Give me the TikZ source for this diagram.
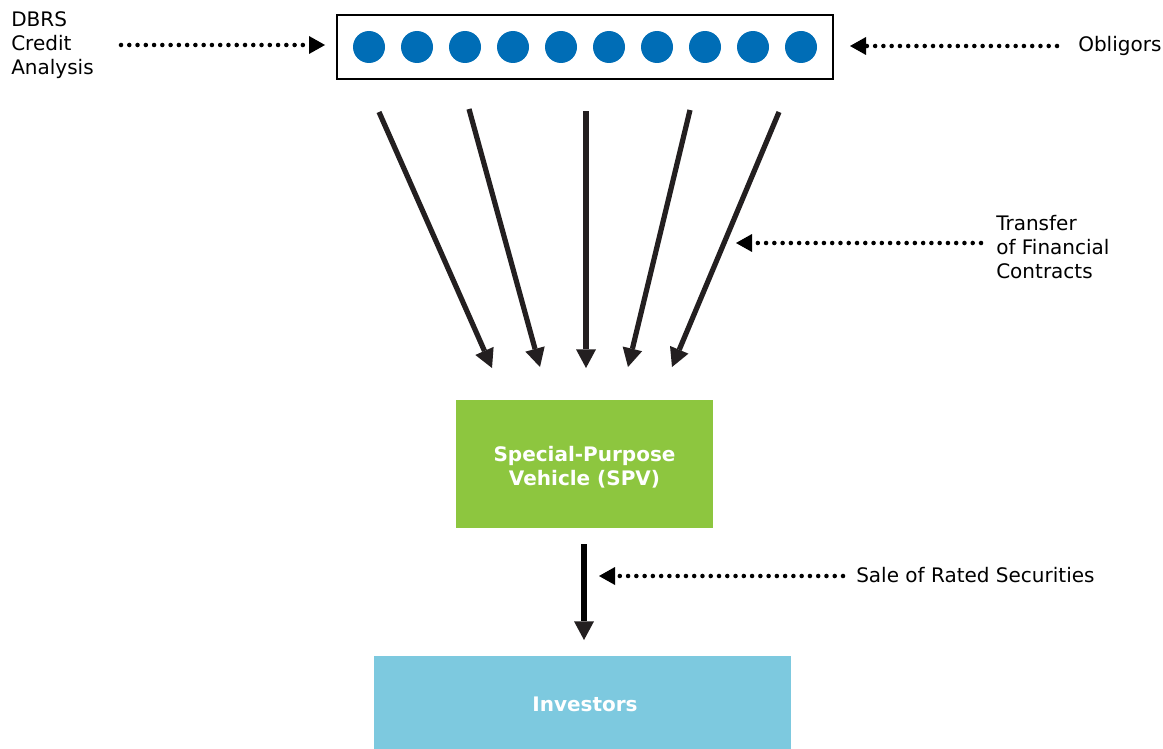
\documentclass[tikz,border=0pt]{standalone}
\usepackage{fontspec}
\setmainfont{DejaVu Sans}
\usetikzlibrary{arrows.meta}
\definecolor{poolblue}{HTML}{006DB6}
\definecolor{spvgreen}{HTML}{8DC63F}
\definecolor{invblue}{HTML}{7DC9DF}
\definecolor{arrowdark}{HTML}{231F20}
\tikzset{
  lbl/.style={font=\fontsize{15pt}{18pt}\selectfont, text=black, inner sep=0pt, align=left},
  boxtext/.style={font=\bfseries\fontsize{15pt}{18pt}\selectfont, text=white, align=center},
  dotarrow/.style={line width=3.4pt, line cap=round, dash pattern=on 0pt off 6.2pt,
     -{Triangle[length=12pt,width=13.5pt,line width=0pt]}},
  bigarrow/.style={line width=3.9pt, draw=arrowdark,
     -{Triangle[length=14pt,width=15pt,line width=0pt,fill=arrowdark]}},
  dot/.style={circle, fill=poolblue, minimum size=24pt, inner sep=0pt},
}
\begin{document}
\begin{tikzpicture}[x=0.75pt,y=-0.75pt]
\useasboundingbox (0,0) rectangle (1163,749);
% pool box
\node[draw=black, line width=0.9pt, minimum width=372pt, minimum height=48pt, inner sep=0pt] (pool) at (585,47) {};
\foreach \i in {0,...,9} {
  \node[dot] (c\i) at ({369+48*\i},47) {};
}
% labels
\node[lbl, anchor=north west] (dbrs) at (11,11) {DBRS\\Credit\\Analysis};
\node[lbl, anchor=west] (oblig) at (1078,46) {Obligors};
\node[lbl, anchor=north west] (transfer) at (996,215) {Transfer\\of Financial\\Contracts};
\node[lbl, anchor=west] (sale) at (856,575) {Sale of Rated Securities};
% boxes
\node[fill=spvgreen, minimum width=192.75pt, minimum height=96pt, inner sep=0pt] (spv) at (584.5,464) {};
\node[boxtext] (spvtext) at (584.5,467) {Special-Purpose\\Vehicle (SPV)};
\node[fill=invblue, minimum width=312.75pt, minimum height=72pt, inner sep=0pt] (inv) at (582.5,704) {};
\node[boxtext] (invtext) at (585,704) {Investors};
% dotted arrows
\coordinate (d1s) at (121,45); \coordinate (d1e) at (325,45);
\draw[dotarrow] (d1s) -- (d1e);
\coordinate (d2s) at (1057,46); \coordinate (d2e) at (850,46);
\draw[dotarrow] (d2s) -- (d2e);
\coordinate (d3s) at (981,243); \coordinate (d3e) at (736,243);
\draw[dotarrow] (d3s) -- (d3e);
\coordinate (d4s) at (843,576); \coordinate (d4e) at (599,576);
\draw[dotarrow] (d4s) -- (d4e);
% big arrows
\coordinate (a1s) at (379,112); \coordinate (a1e) at (492,368);
\coordinate (a2s) at (469,109); \coordinate (a2e) at (540,367);
\coordinate (a3s) at (586,111); \coordinate (a3e) at (586,368);
\coordinate (a4s) at (690,110); \coordinate (a4e) at (628,367);
\coordinate (a5s) at (779,112); \coordinate (a5e) at (672,367);
\foreach \k in {1,...,5} { \draw[bigarrow] (a\k s) -- (a\k e); }
\coordinate (a6s) at (584,544); \coordinate (a6e) at (584,640);
\draw[bigarrow, draw=black] (a6s) -- (a6e);
\end{tikzpicture}
\end{document}
